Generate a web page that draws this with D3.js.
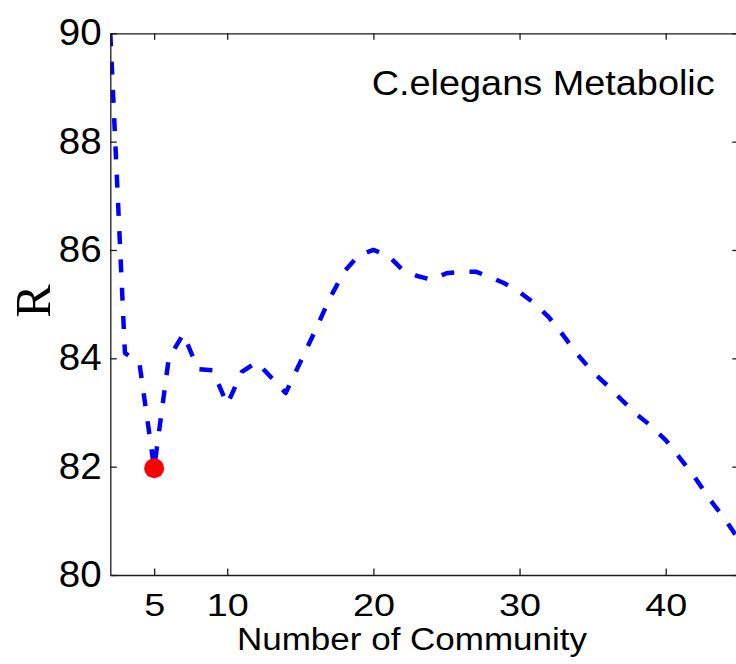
<!DOCTYPE html>
<html>
<head>
<meta charset="utf-8">
<script src="https://cdn.jsdelivr.net/npm/d3@7"></script>
<style>
  html, body { margin: 0; padding: 0; background: #ffffff; }
  svg { display: block; }
</style>
</head>
<body>
<svg id="chart" width="736" height="664"></svg>
<script>
// Number of communities and the corresponding R score
const communities = [2, 3, 4, 5, 6, 7, 8, 9, 10, 11, 12, 13, 14, 15, 16, 17, 18, 19, 20,
  21, 22, 23, 24, 25, 26, 27, 28, 29, 30, 31, 32, 33, 34, 35, 36, 37, 38, 39, 40,
  41, 42, 43, 44, 45];
const rValues = [90.0, 84.1, 83.9, 81.97, 84.0, 84.45, 83.8, 83.78, 83.15, 83.75, 83.93, 83.65,
  83.36, 83.93, 84.5, 85.1, 85.6, 85.9, 86.0, 85.9, 85.63, 85.52, 85.45, 85.57, 85.6,
  85.6, 85.5, 85.38, 85.22, 85.02, 84.76, 84.42, 84.06, 83.75, 83.5, 83.23, 82.97,
  82.75, 82.49, 82.15, 81.8, 81.4, 81.05, 80.65];

// Highlighted optimum
const bestCommunity = [5];
const bestR = [81.97];

const xTicks = [5, 10, 20, 30, 40];
const yTicks = [80, 82, 84, 86, 88, 90];
const xDomain = [2, 45];
const yDomain = [80, 90];

const titleText = "C.elegans Metabolic";
const xLabelText = "Number of Community";
const yLabelText = "R";

const svg = d3.select("#chart");
const plotLeft = 110.3, plotTop = 33.3, plotRight = 738.8, plotBottom = 575;
const sansFont = "'Liberation Sans', Arial, Helvetica, sans-serif";

const x = d3.scaleLinear().domain(xDomain).range([plotLeft, plotRight]);
const y = d3.scaleLinear().domain(yDomain).range([plotBottom, plotTop]);

svg.append("rect").attr("width", 736).attr("height", 664).attr("fill", "#ffffff");

svg.append("defs").append("clipPath").attr("id", "plot-clip")
  .append("rect")
  .attr("x", plotLeft).attr("y", plotTop)
  .attr("width", plotRight - plotLeft).attr("height", plotBottom - plotTop);

// Dashed R curve
const points = communities.map((c, i) => ({ c, r: rValues[i] }));
const line = d3.line().x(d => x(d.c)).y(d => y(d.r));
svg.append("path")
  .datum(points)
  .attr("clip-path", "url(#plot-clip)")
  .attr("d", line)
  .attr("fill", "none")
  .attr("stroke", "#0000ff")
  .attr("stroke-width", 4.5)
  .attr("stroke-dasharray", "13 15.3")
  .attr("stroke-linejoin", "round");

// Optimum marker
svg.selectAll("circle.best")
  .data(bestCommunity.map((c, i) => ({ c, r: bestR[i] })))
  .join("circle")
  .attr("class", "best")
  .attr("cx", d => x(d.c))
  .attr("cy", d => y(d.r))
  .attr("r", 10)
  .attr("fill", "#ff0000");

// Axes box with inward ticks
function styleAxis(g) {
  g.selectAll(".domain").attr("stroke", "#1a1a1a").attr("stroke-width", 1.3);
  g.selectAll(".tick line").attr("stroke", "#1a1a1a").attr("stroke-width", 1.3);
  g.attr("font-family", sansFont);
}

const gx = svg.append("g")
  .attr("transform", `translate(0,${plotBottom})`)
  .call(d3.axisBottom(x).tickValues(xTicks).tickFormat(d3.format("d"))
    .tickSizeInner(-6.5).tickSizeOuter(0).tickPadding(18.3))
  .call(styleAxis);
gx.selectAll(".tick text")
  .attr("font-size", 32)
  .attr("fill", "#000")
  .attr("transform", "scale(1.18,1)");

const gy = svg.append("g")
  .attr("transform", `translate(${plotLeft},0)`)
  .call(d3.axisLeft(y).tickValues(yTicks).tickFormat(d3.format("d"))
    .tickSizeInner(-6.5).tickSizeOuter(0).tickPadding(8.6))
  .call(styleAxis);
gy.selectAll(".tick text")
  .attr("font-size", 36)
  .attr("fill", "#000")
  .attr("x", 0)
  .attr("transform", "translate(-8.6,0) scale(1.07,1)");

svg.append("g")
  .attr("transform", `translate(0,${plotTop})`)
  .call(d3.axisTop(x).tickValues(xTicks).tickFormat(() => "")
    .tickSizeInner(-6.5).tickSizeOuter(0))
  .call(styleAxis);

svg.append("g")
  .attr("transform", `translate(${plotRight},0)`)
  .call(d3.axisRight(y).tickValues(yTicks).tickFormat(() => "")
    .tickSizeInner(-6.5).tickSizeOuter(0))
  .call(styleAxis);

// Title inside the axes
svg.append("text")
  .attr("x", 371.7).attr("y", 95)
  .attr("font-family", sansFont)
  .attr("font-size", 35)
  .attr("textLength", 343)
  .attr("lengthAdjust", "spacingAndGlyphs")
  .attr("fill", "#000")
  .text(titleText);

// Axis labels
svg.append("text")
  .attr("x", 237).attr("y", 650)
  .attr("font-family", sansFont)
  .attr("font-size", 31)
  .attr("textLength", 350)
  .attr("lengthAdjust", "spacingAndGlyphs")
  .attr("fill", "#000")
  .text(xLabelText);

svg.append("text")
  .attr("transform", "translate(50,301) rotate(-90)")
  .attr("text-anchor", "middle")
  .attr("font-family", "'Liberation Serif', 'Times New Roman', serif")
  .attr("font-size", 50)
  .attr("fill", "#000")
  .text(yLabelText);
</script>
</body>
</html>
